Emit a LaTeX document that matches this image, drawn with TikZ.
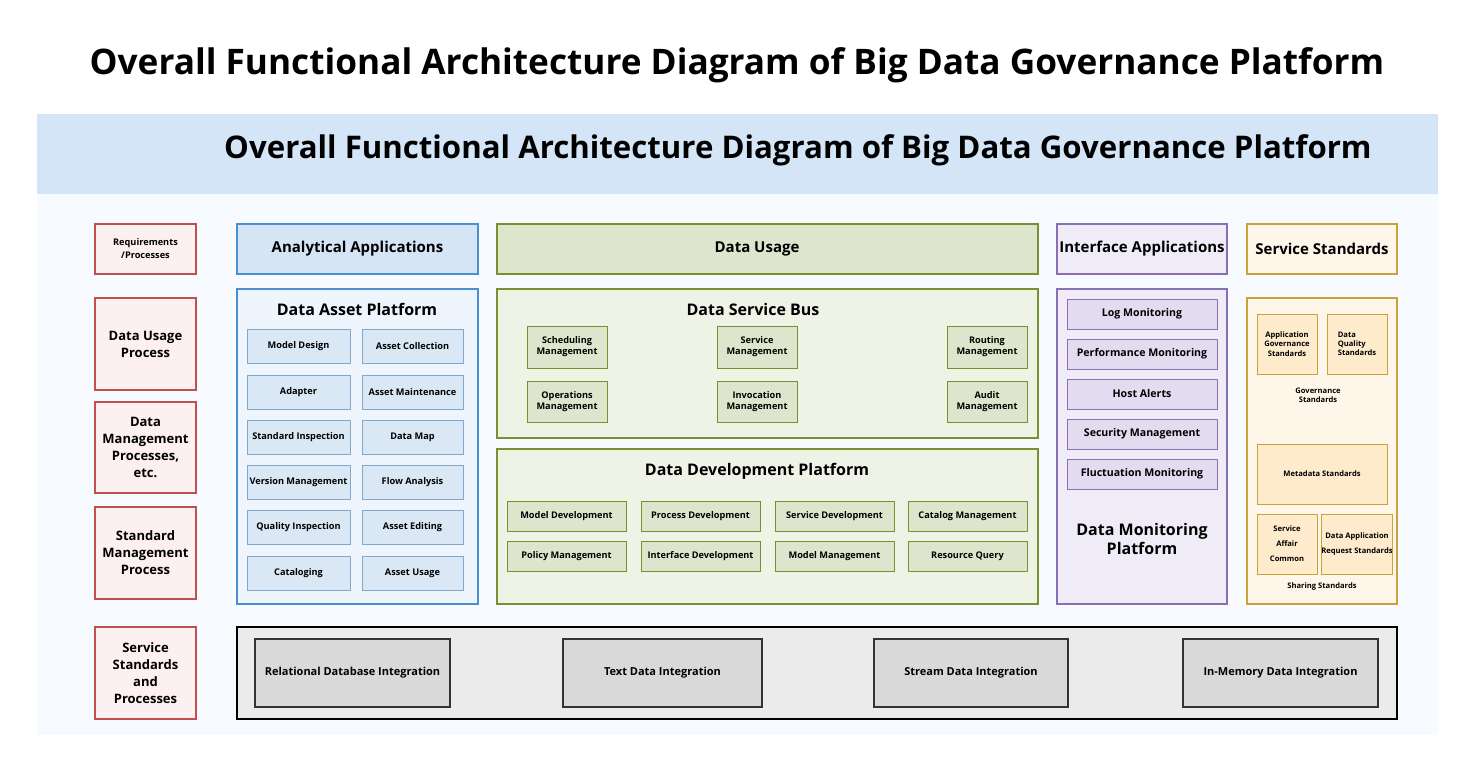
\documentclass[tikz,border=0pt]{standalone}
\usepackage{fontspec}
\setmainfont{Open Sans}
\usepackage{tikz}
\usetikzlibrary{positioning}

\definecolor{bandblue}{HTML}{D3E5F7}
\definecolor{pagebg}{HTML}{F7FAFE}
\definecolor{redline}{HTML}{C0504D}
\definecolor{redfill}{HTML}{FDF0F0}
\definecolor{blueline}{HTML}{4A90D0}
\definecolor{bluefill}{HTML}{D5E5F5}
\definecolor{bluepale}{HTML}{EEF5FC}
\definecolor{blueitem}{HTML}{DAE8F5}
\definecolor{blueitemline}{HTML}{7FA8CC}
\definecolor{greenline}{HTML}{76922E}
\definecolor{greenfill}{HTML}{DDE6CC}
\definecolor{greenpale}{HTML}{EEF3E6}
\definecolor{purpleline}{HTML}{8B6FB5}
\definecolor{purplefill}{HTML}{F0ECF7}
\definecolor{purpleitem}{HTML}{E3DCF0}
\definecolor{orangeline}{HTML}{C9A23C}
\definecolor{orangefill}{HTML}{FEF6E8}
\definecolor{orangeitem}{HTML}{FDEBCC}
\definecolor{greyfill}{HTML}{EBEBEB}
\definecolor{greyitem}{HTML}{D9D9D9}

% box from (x1,y1) to (x2,y2) in pixels
\newcommand{\blk}[7]{%
  \pgfmathsetmacro{\bw}{(#4-#2)*0.5}%
  \pgfmathsetmacro{\bh}{(#5-#3)*0.5}%
  \node[#6, minimum width=\bw pt, minimum height=\bh pt] (#1) at ({(#2+#4)/2},{(#3+#5)/2}) {#7};}

\tikzset{
  base/.style={draw, inner sep=0pt, align=center, font=\bfseries},
  side/.style={base, draw=redline, fill=redfill, line width=0.8pt, font=\bfseries\fontsize{6.5}{8.5}\selectfont},
  blhead/.style={base, draw=blueline, fill=bluefill, line width=0.8pt, font=\bfseries\fontsize{7.5}{9}\selectfont},
  blpanel/.style={base, draw=blueline, fill=bluepale, line width=0.8pt},
  blitem/.style={base, draw=blueitemline, fill=blueitem, line width=0.4pt, font=\bfseries\fontsize{4.6}{5.5}\selectfont},
  grhead/.style={base, draw=greenline, fill=greenfill, line width=0.8pt, font=\bfseries\fontsize{7.5}{9}\selectfont},
  grpanel/.style={base, draw=greenline, fill=greenpale, line width=0.8pt},
  gritem/.style={base, draw=greenline, fill=greenfill, line width=0.5pt, font=\bfseries\fontsize{4.6}{5.5}\selectfont},
  puhead/.style={base, draw=purpleline, fill=purplefill, line width=0.8pt, font=\bfseries\fontsize{7.5}{9}\selectfont},
  pupanel/.style={base, draw=purpleline, fill=purplefill, line width=0.8pt},
  puitem/.style={base, draw=purpleline, fill=purpleitem, line width=0.4pt, font=\bfseries\fontsize{5.3}{6.5}\selectfont},
  orhead/.style={base, draw=orangeline, fill=orangefill, line width=0.8pt, font=\bfseries\fontsize{7.5}{9}\selectfont},
  orpanel/.style={base, draw=orangeline, fill=orangefill, line width=0.8pt},
  oritem/.style={base, draw=orangeline, fill=orangeitem, line width=0.4pt, font=\bfseries\fontsize{3.8}{4.6}\selectfont},
  gyitem/.style={base, draw=black!80, fill=greyitem, line width=0.8pt, font=\bfseries\fontsize{5.5}{6.5}\selectfont},
  ptitle/.style={font=\bfseries\fontsize{8}{9.5}\selectfont, align=center},
  small/.style={font=\bfseries\fontsize{3.8}{4.6}\selectfont, align=center}
}

\begin{document}
\begin{tikzpicture}[x=0.5pt,y=-0.5pt]
  \useasboundingbox (0,0) rectangle (1476,775);
  \fill[white] (0,0) rectangle (1476,775);
  \node[font=\bfseries\fontsize{17.6}{20}\selectfont] (title) at (737,65) {Overall Functional Architecture Diagram of Big Data Governance Platform};
  \fill[pagebg] (37,194) rectangle (1438,735);
  \fill[bandblue] (37,114) rectangle (1438,194);
  \node[font=\bfseries\fontsize{15.6}{18}\selectfont] (band) at (798,150) {Overall Functional Architecture Diagram of Big Data Governance Platform};

  % left column
  \blk{req}{95}{224}{196}{274}{side, font=\bfseries\fontsize{4.6}{6.5}\selectfont}{Requirements\\/Processes}
  \blk{usep}{95}{298}{196}{390}{side}{Data Usage\\Process}
  \blk{mgmtp}{95}{402}{196}{493}{side}{Data\\Management\\Processes,\\etc.}
  \blk{stdp}{95}{507}{196}{599}{side}{Standard\\Management\\Process}
  \blk{srvp}{95}{627}{196}{719}{side}{Service\\Standards\\and\\Processes}

  % data asset platform
  \blk{ana}{237}{224}{478}{274}{blhead}{Analytical Applications}
  \blk{asset}{237}{289}{478}{604}{blpanel}{}
  \node[ptitle] (assett) at (357,309) {Data Asset Platform};
  \blk{a1}{247}{329}{350}{363}{blitem}{Model Design}
  \blk{a2}{362}{329}{463}{363}{blitem}{Asset Collection}
  \blk{a3}{247}{375}{350}{409}{blitem}{Adapter}
  \blk{a4}{362}{375}{463}{409}{blitem}{Asset Maintenance}
  \blk{a5}{247}{420}{350}{454}{blitem}{Standard Inspection}
  \blk{a6}{362}{420}{463}{454}{blitem}{Data Map}
  \blk{a7}{247}{465}{350}{499}{blitem}{Version Management}
  \blk{a8}{362}{465}{463}{499}{blitem}{Flow Analysis}
  \blk{a9}{247}{510}{350}{544}{blitem}{Quality Inspection}
  \blk{a10}{362}{510}{463}{544}{blitem}{Asset Editing}
  \blk{a11}{247}{556}{350}{590}{blitem}{Cataloging}
  \blk{a12}{362}{556}{463}{590}{blitem}{Asset Usage}

  % data service bus
  \blk{usage}{497}{224}{1038}{274}{grhead}{}
  \node[ptitle, font=\bfseries\fontsize{7.5}{9}\selectfont] (usaget) at (757,249) {Data Usage};
  \blk{bus}{497}{289}{1038}{438}{grpanel}{}
  \node[ptitle] (bust) at (753,309) {Data Service Bus};
  \blk{b1}{527}{326}{607}{368}{gritem}{Scheduling\\Management}
  \blk{b2}{717}{326}{797}{368}{gritem}{Service\\Management}
  \blk{b3}{947}{326}{1027}{368}{gritem}{Routing\\Management}
  \blk{b4}{527}{381}{607}{422}{gritem}{Operations\\Management}
  \blk{b5}{717}{381}{797}{422}{gritem}{Invocation\\Management}
  \blk{b6}{947}{381}{1027}{422}{gritem}{Audit\\Management}

  % data development platform
  \blk{dev}{497}{449}{1038}{604}{grpanel}{}
  \node[ptitle] (devt) at (757,471) {Data Development Platform};
  \blk{d1}{507}{501}{626}{531}{gritem}{Model Development}
  \blk{d2}{641}{501}{760}{531}{gritem}{Process Development}
  \blk{d3}{775}{501}{894}{531}{gritem}{Service Development}
  \blk{d4}{908}{501}{1027}{531}{gritem}{Catalog Management}
  \blk{d5}{507}{541}{626}{571}{gritem}{Policy Management}
  \blk{d6}{641}{541}{760}{571}{gritem}{Interface Development}
  \blk{d7}{775}{541}{894}{571}{gritem}{Model Management}
  \blk{d8}{908}{541}{1027}{571}{gritem}{Resource Query}

  % data monitoring platform
  \blk{iface}{1057}{224}{1227}{274}{puhead}{Interface Applications}
  \blk{mon}{1057}{289}{1227}{604}{pupanel}{}
  \blk{m1}{1067}{299}{1217}{329}{puitem}{Log Monitoring}
  \blk{m2}{1067}{339}{1217}{369}{puitem}{Performance Monitoring}
  \blk{m3}{1067}{379}{1217}{409}{puitem}{Host Alerts}
  \blk{m4}{1067}{419}{1217}{449}{puitem}{Security Management}
  \blk{m5}{1067}{459}{1217}{489}{puitem}{Fluctuation Monitoring}
  \node[ptitle] (mont) at (1142,539) {Data Monitoring\\Platform};

  % service standards
  \blk{svc}{1247}{224}{1397}{274}{orhead}{Service Standards}
  \blk{std}{1247}{298}{1397}{604}{orpanel}{}
  \blk{s1}{1257}{314}{1317}{374}{oritem}{Application\\Governance\\Standards}
  \blk{s2}{1327}{314}{1387}{374}{oritem, align=left}{Data\\Quality\\Standards}
  \node[small] (gov) at (1318,395) {Governance\\Standards};
  \blk{s3}{1257}{444}{1387}{504}{oritem}{Metadata Standards}
  \blk{s4}{1257}{514}{1317}{574}{oritem, font=\bfseries\fontsize{3.8}{7.5}\selectfont}{Service\\Affair\\Common}
  \blk{s5}{1327}{514}{1387}{574}{oritem, font=\bfseries\fontsize{3.8}{7.5}\selectfont}{Data Application\\Request Standards}
  \node[small] (share) at (1322,587) {Sharing Standards};

  % integration layer
  \blk{integ}{237}{627}{1397}{719}{base, draw=black, fill=greyfill, line width=1.2pt}{}
  \blk{i1}{255}{639}{450}{707}{gyitem}{Relational Database Integration}
  \blk{i2}{563}{639}{762}{707}{gyitem}{Text Data Integration}
  \blk{i3}{874}{639}{1068}{707}{gyitem}{Stream Data Integration}
  \blk{i4}{1183}{639}{1378}{707}{gyitem}{In-Memory Data Integration}
\end{tikzpicture}
\end{document}
